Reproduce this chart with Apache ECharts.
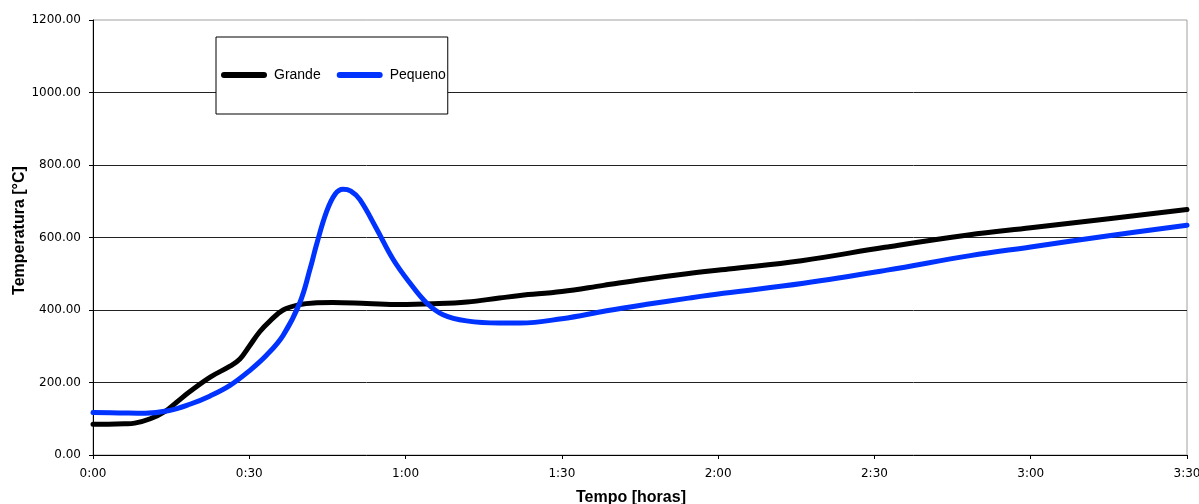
<!DOCTYPE html>
<html>
<head>
<meta charset="utf-8">
<script src="https://cdn.jsdelivr.net/npm/echarts@6/dist/echarts.min.js"></script>
<style>
html,body{margin:0;padding:0;background:#fff;}
#chart{width:1199px;height:504px;}
</style>
</head>
<body>
<div id="chart"></div>
<script>
// Time in minutes, temperature in °C
const grandeTime = [0, 3, 6, 8, 11, 14, 16, 18.6, 22.5, 26.3, 28.2, 30, 32, 34, 36.5, 39.7, 43, 46, 52.6, 58.9, 65.3, 71.8, 78, 82, 90, 98, 106, 114, 122, 136, 152, 168, 180, 195, 210];
const grandeTemp = [85, 85, 86, 88, 100, 122, 145, 175, 215, 245, 265, 300, 340, 370, 400, 415, 420, 421, 418, 415, 417, 422, 433, 440, 451, 468, 485, 500, 513, 536, 573, 607, 627, 652, 677];
const pequenoTime = [0, 5, 10, 14.4, 18.6, 22.5, 26.3, 30, 33.3, 36.5, 39.7, 41.7, 42.9, 44.8, 46.5, 48, 49.5, 51.2, 54.4, 57.6, 60.8, 64, 67.2, 71.7, 78, 82, 90, 98.6, 106, 114, 121, 136.4, 152.4, 168.4, 180, 195, 210];
const pequenoTemp = [117, 116, 115, 122, 140, 163, 192, 232, 275, 330, 420, 515, 580, 670, 720, 733, 728, 705, 625, 540, 475, 420, 387, 370, 364, 364, 376, 398, 415, 432, 446, 474, 510, 550, 574, 605, 634];
const xTickLabels = ['0:00', '0:30', '1:00', '1:30', '2:00', '2:30', '3:00', '3:30'];
const seriesNames = ['Grande', 'Pequeno'];

const zip = (a, b) => a.map((v, i) => [v, b[i]]);
const lineIcon = 'path://M3,0 L43,0 A3,3 0 0 1 43,6 L3,6 A3,3 0 0 1 3,0 Z';

const chart = echarts.init(document.getElementById('chart'));
chart.setOption({
  animation: false,
  backgroundColor: '#fff',
  grid: {left: 93, right: 12, top: 20, bottom: 49, containLabel: false, outerBoundsMode: 'none',
    show: true, borderColor: '#a0a0a0', borderWidth: 1, backgroundColor: 'transparent'},
  legend: {
    left: 216, top: 37,
    padding: [31, 2, 32, 5],
    backgroundColor: '#fff',
    borderColor: '#000', borderWidth: 1,
    itemWidth: 46, itemHeight: 6, itemGap: 16,
    textStyle: {fontFamily: 'Liberation Sans, Arial', fontSize: 14, color: '#000', padding: [0, 0, 0, 2]},
    data: [
      {name: seriesNames[0], icon: lineIcon, itemStyle: {color: '#000'}},
      {name: seriesNames[1], icon: lineIcon, itemStyle: {color: '#0033ff'}}
    ]
  },
  xAxis: {
    type: 'value', min: 0, max: 210, interval: 30,
    name: 'Tempo [horas]', nameLocation: 'middle', nameGap: 35, nameMoveOverlap: false,
    nameTextStyle: {fontFamily: 'Liberation Sans, Arial', fontWeight: 'bold', fontSize: 16, color: '#000', padding: [0, 18, 0, 0]},
    axisLine: {show: true, lineStyle: {color: '#000', width: 1}},
    axisTick: {show: true, length: 4, lineStyle: {color: '#000'}},
    axisLabel: {fontFamily: 'DejaVu Sans, Verdana', fontSize: 12, color: '#000', margin: 13,
      formatter: v => xTickLabels[Math.round(v / 30)]},
    splitLine: {show: false}
  },
  yAxis: {
    type: 'value', min: 0, max: 1200, interval: 200,
    name: 'Temperatura [°C]', nameLocation: 'middle', nameGap: 65, nameRotate: 90, nameMoveOverlap: false,
    nameTextStyle: {fontFamily: 'Liberation Sans, Arial', fontWeight: 'bold', fontSize: 16, color: '#000', padding: [0, 0, 0, 14]},
    axisLine: {show: true, lineStyle: {color: '#000', width: 1}},
    axisTick: {show: true, length: 4, lineStyle: {color: '#000'}},
    axisLabel: {fontFamily: 'DejaVu Sans, Verdana', fontSize: 12, color: '#000', margin: 12,
      formatter: v => v.toFixed(2)},
    splitLine: {show: true, showMinLine: false, showMaxLine: false, lineStyle: {color: '#222', width: 1}}
  },
  series: [
    {name: seriesNames[0], type: 'line', smooth: 0.4, showSymbol: false, symbol: 'none',
      lineStyle: {color: '#000', width: 5, cap: 'round', join: 'round'}, itemStyle: {color: '#000'},
      data: zip(grandeTime, grandeTemp), z: 2},
    {name: seriesNames[1], type: 'line', smooth: 0.4, showSymbol: false, symbol: 'none',
      lineStyle: {color: '#0033ff', width: 5, cap: 'round', join: 'round'}, itemStyle: {color: '#0033ff'},
      data: zip(pequenoTime, pequenoTemp), z: 3}
  ]
});
</script>
</body>
</html>
